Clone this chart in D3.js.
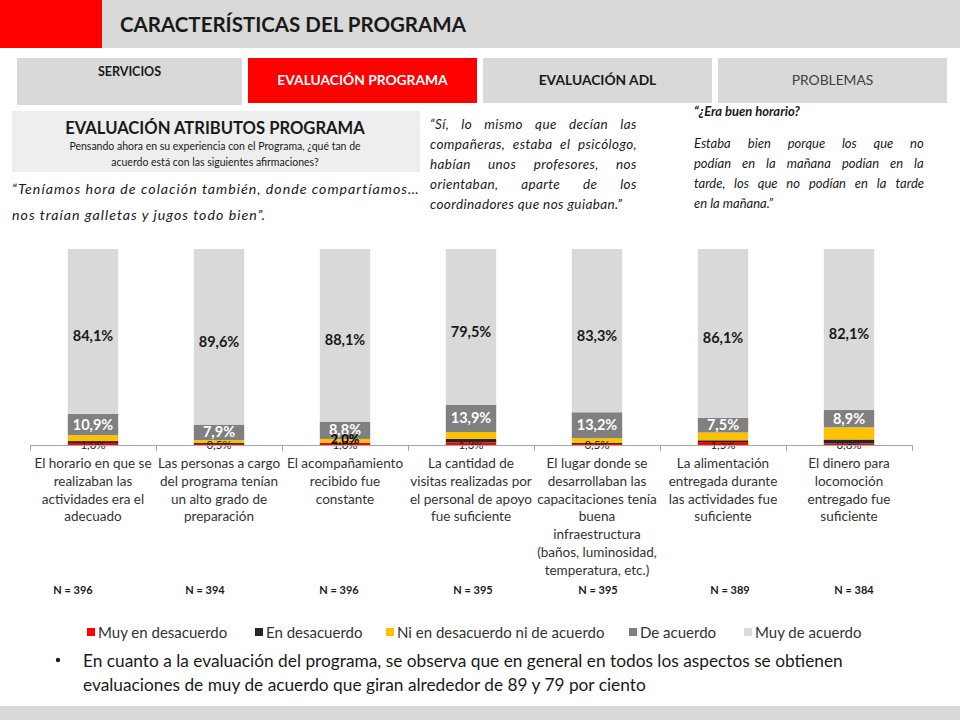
<!DOCTYPE html>
<html><head><meta charset="utf-8">
<script src="https://cdn.jsdelivr.net/npm/d3@7"></script>
<style>
html,body{margin:0;padding:0;background:#fff;}
svg{display:block;font-family:Lato,"Open Sans",sans-serif;}
</style></head>
<body><svg id="c" width="960" height="720"></svg>
<script>
// ---------- DATA ----------
const categories = [
  "El horario en que se\nrealizaban las\nactividades era el\nadecuado",
  "Las personas a cargo\ndel programa tenían\nun alto grado de\npreparación",
  "El acompañamiento\nrecibido fue\nconstante",
  "La cantidad de\nvisitas realizadas por\nel personal de apoyo\nfue suficiente",
  "El lugar donde se\ndesarrollaban las\ncapacitaciones tenía\nbuena\ninfraestructura\n(baños, luminosidad,\ntemperatura, etc.)",
  "La alimentación\nentregada durante\nlas actividades fue\nsuficiente",
  "El dinero para\nlocomoción\nentregado fue\nsuficiente"
];
const seriesNames = ["Muy en desacuerdo","En desacuerdo","Ni en desacuerdo ni de acuerdo","De acuerdo","Muy de acuerdo"];
const muyEnDesacuerdo = [1.0, 0.5, 1.0, 1.3, 0.5, 1.5, 0.8];
const enDesacuerdo    = [1.0, 0.5, 0.1, 1.8, 0.5, 0.9, 2.0];
const niNi            = [3.0, 1.5, 2.0, 3.5, 2.5, 4.0, 6.2];
const deAcuerdo       = [10.9, 7.9, 8.8, 13.9, 13.2, 7.5, 8.9];
const muyDeAcuerdo    = [84.1, 89.6, 88.1, 79.5, 83.3, 86.1, 82.1];
const nLabels = ["N = 396","N = 394","N = 396","N = 395","N = 395","N = 389","N = 384"];
const seriesColors = ["#ff0000","#262626","#ffc000","#808080","#d9d9d9"];

// ---------- LAYOUT ----------
const svg = d3.select("#c");
const fmt = v => d3.format(".1f")(v).replace(".", ",") + "%";

// Header
svg.append("rect").attr("x",0).attr("y",0).attr("width",960).attr("height",48).attr("fill","#d9d9d9");
svg.append("rect").attr("x",0).attr("y",0).attr("width",102).attr("height",48).attr("fill","#ff0000");
svg.append("text").attr("x",120).attr("y",32).attr("font-size",20.5).attr("font-weight","bold")
  .attr("fill","#1a1a1a").text("CARACTERÍSTICAS DEL PROGRAMA");

// Tabs
const tabs = [
  {x:17,w:225,h:47,fill:"#d9d9d9",t:"SERVICIOS",c:"#1a1a1a",fw:"bold",ty:76,fs:12.5},
  {x:248,w:229,h:45,fill:"#ff0000",t:"EVALUACIÓN PROGRAMA",c:"#ffffff",fw:"bold",ty:85,fs:13.8},
  {x:483,w:229,h:45,fill:"#d9d9d9",t:"EVALUACIÓN ADL",c:"#1a1a1a",fw:"bold",ty:85,fs:13.8},
  {x:718,w:229,h:45,fill:"#d9d9d9",t:"PROBLEMAS",c:"#404040",fw:"normal",ty:85,fs:13.8}
];
tabs.forEach(d=>{
  svg.append("rect").attr("x",d.x).attr("y",58).attr("width",d.w).attr("height",d.h).attr("fill",d.fill);
  svg.append("text").attr("x",d.x+d.w/2).attr("y",d.ty).attr("text-anchor","middle")
    .attr("font-size",d.fs).attr("font-weight",d.fw).attr("fill",d.c).text(d.t);
});

// Box
svg.append("rect").attr("x",12).attr("y",111).attr("width",408).attr("height",61).attr("fill","#eeeeee");
svg.append("text").attr("x",215).attr("y",134).attr("text-anchor","middle").attr("font-size",16.6)
  .attr("font-weight","bold").attr("fill","#1a1a1a").text("EVALUACIÓN ATRIBUTOS PROGRAMA");
svg.append("text").attr("x",215).attr("y",150).attr("text-anchor","middle").attr("font-size",10.5)
  .attr("fill","#1a1a1a").text("Pensando ahora en su experiencia con el Programa, ¿qué tan de");
svg.append("text").attr("x",215).attr("y",166).attr("text-anchor","middle").attr("font-size",10.5)
  .attr("fill","#1a1a1a").text("acuerdo está con las siguientes afirmaciones?");

// Quote 1
svg.append("text").attr("x",12).attr("y",194).attr("font-size",14.2).attr("font-style","italic")
  .attr("letter-spacing",1.0).attr("fill","#1a1a1a").text("“Teníamos hora de colación también, donde compartíamos…");
svg.append("text").attr("x",12).attr("y",220).attr("font-size",14.2).attr("font-style","italic")
  .attr("letter-spacing",1.0).attr("fill","#1a1a1a").text("nos traían galletas y jugos todo bien”.");

function justified(lines, x0, width, y0, lh, size, ls) {
  lines.forEach((line, i) => {
    const y = y0 + i * lh;
    const words = line.split(" ");
    const last = i === lines.length - 1;
    if (last || words.length === 1) {
      svg.append("text").attr("x",x0).attr("y",y).attr("font-size",size).attr("font-style","italic")
        .attr("letter-spacing",ls).attr("fill","#1a1a1a").text(line);
      return;
    }
    const nodes = words.map(w => svg.append("text").attr("y",y).attr("font-size",size)
      .attr("font-style","italic").attr("letter-spacing",ls).attr("fill","#1a1a1a").text(w));
    const widths = nodes.map(n => n.node().getBBox().width);
    const gap = Math.max(3, (width - d3.sum(widths)) / (words.length - 1));
    let x = x0;
    nodes.forEach((n, k) => { n.attr("x", x); x += widths[k] + gap; });
  });
}
justified(["“Sí, lo mismo que decían las","compañeras, estaba el psicólogo,","habían unos profesores, nos",
  "orientaban, aparte de los","coordinadores que nos guiaban.”"], 430, 207, 129, 20, 13.5, 0.4);
svg.append("text").attr("x",694).attr("y",116).attr("font-size",13).attr("font-style","italic")
  .attr("font-weight","bold").attr("fill","#1a1a1a").text("“¿Era buen horario?");
justified(["Estaba bien porque los que no","podían en la mañana podían en la","tarde, los que no podían en la tarde",
  "en la mañana.”"], 694, 230, 148, 20, 13, 0);

// ---------- CHART ----------
const x = d3.scaleBand().domain(d3.range(categories.length)).range([30,912]).paddingInner(0.6).paddingOuter(0.3);
const y = d3.scaleLinear().domain([0,100]).range([445,249]);
const table = categories.map((c,i)=>({i, s0:muyEnDesacuerdo[i], s1:enDesacuerdo[i], s2:niNi[i], s3:deAcuerdo[i], s4:muyDeAcuerdo[i]}));
const keys = ["s0","s1","s2","s3","s4"];
const stacked = d3.stack().keys(keys)(table);

const g = svg.append("g");
stacked.forEach((layer, li) => {
  g.selectAll(null).data(layer).join("rect")
    .attr("x", d => x(d.data.i)).attr("width", x.bandwidth())
    .attr("y", d => y(d[1])).attr("height", d => y(d[0]) - y(d[1]))
    .attr("fill", seriesColors[li]);
});

// Axis with ticks at category boundaries
const bScale = d3.scaleLinear().domain([0, categories.length]).range([30,912]);
const ax = svg.append("g").attr("transform","translate(0,445)")
  .call(d3.axisBottom(bScale).ticks(categories.length).tickSize(6).tickFormat(""));
ax.selectAll("path,line").attr("stroke","#a6a6a6");

// Labels
const L4 = stacked[4], L3 = stacked[3], L0 = stacked[0], L2 = stacked[2];
g.selectAll(null).data(L4).join("text")
  .attr("x", d => x(d.data.i) + x.bandwidth()/2).attr("y", d => (y(d[0]) + y(d[1]))/2 + 10)
  .attr("text-anchor","middle").attr("font-size",14.5).attr("font-weight","bold").attr("fill","#1a1a1a")
  .text(d => fmt(d.data.s4));
g.selectAll(null).data(L3).join("text")
  .attr("x", d => x(d.data.i) + x.bandwidth()/2).attr("y", d => (y(d[0]) + y(d[1]))/2 + 5)
  .attr("text-anchor","middle").attr("font-size",14.5).attr("font-weight","bold").attr("fill","#ffffff")
  .text(d => fmt(d.data.s3));
g.selectAll(null).data(L0).join("text")
  .attr("x", d => x(d.data.i) + x.bandwidth()/2).attr("y", 449)
  .attr("text-anchor","middle").attr("font-size",11.5).attr("fill","#262626")
  .text(d => fmt(d.data.s0));
// bar 3 neutral label
g.selectAll(null).data(L2.filter(d => d.data.i === 2)).join("text")
  .attr("x", d => x(d.data.i) + x.bandwidth()/2).attr("y", 444)
  .attr("text-anchor","middle").attr("font-size",13).attr("font-weight","bold").attr("fill","#000")
  .text(d => fmt(d.data.s2));

// Category labels
categories.forEach((c,i)=>{
  const t = svg.append("text").attr("text-anchor","middle").attr("font-size",13.5).attr("fill","#333");
  c.split("\n").forEach((ln,k)=>{
    t.append("tspan").attr("x", x(i)+x.bandwidth()/2).attr("y", 468 + k*17.8).text(ln);
  });
});

// N labels
const nShift = [-20,-14,-6,2,1,7,5];
nLabels.forEach((n,i)=>{
  svg.append("text").attr("x", x(i)+x.bandwidth()/2 + nShift[i]).attr("y", 594)
    .attr("text-anchor","middle").attr("font-size",11).attr("font-weight","bold").attr("fill","#1a1a1a").text(n);
});

// Legend
const legX = [87,255,386,629,744];
seriesNames.forEach((s,i)=>{
  svg.append("rect").attr("x",legX[i]).attr("y",628).attr("width",8).attr("height",8).attr("fill",seriesColors[i]);
  svg.append("text").attr("x",legX[i]+11).attr("y",638).attr("font-size",15).attr("fill","#333").text(s);
});

// Bullet text
svg.append("circle").attr("cx",58).attr("cy",660).attr("r",2.2).attr("fill","#1a1a1a");
svg.append("text").attr("x",83).attr("y",667).attr("font-size",17.3).attr("fill","#1a1a1a")
  .text("En cuanto a la evaluación del programa, se observa que en general en todos los aspectos se obtienen");
svg.append("text").attr("x",83).attr("y",691).attr("font-size",17.3).attr("fill","#1a1a1a")
  .text("evaluaciones de muy de acuerdo que giran alrededor de 89 y 79 por ciento");

// Bottom band
svg.append("rect").attr("x",0).attr("y",706).attr("width",960).attr("height",14).attr("fill","#d9d9d9");
</script></body></html>
